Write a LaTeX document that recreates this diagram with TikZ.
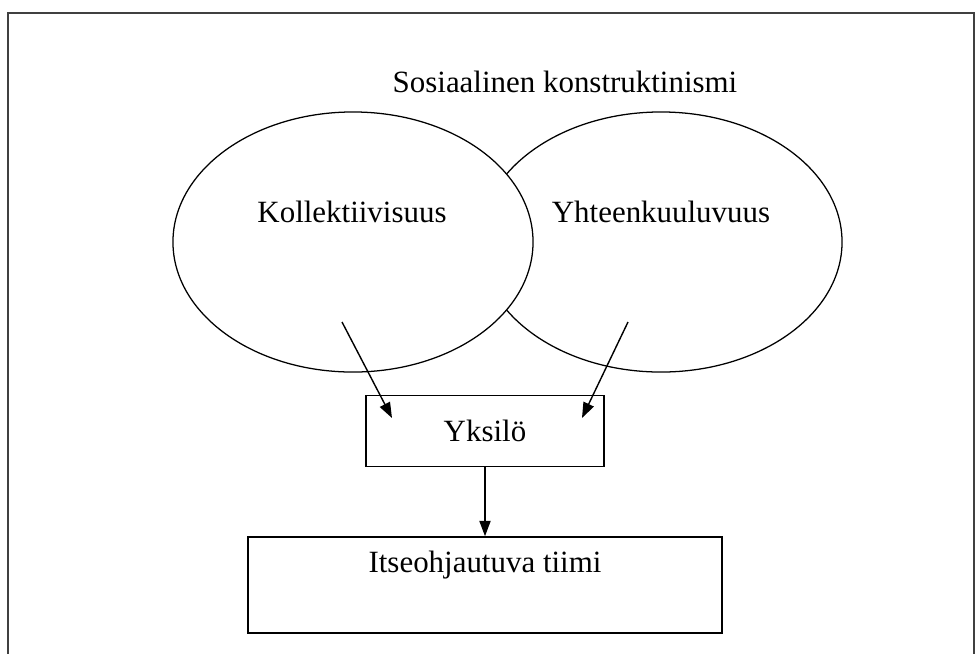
\documentclass[tikz,border=0pt]{standalone}
\usepackage{fontspec}
\setmainfont{Liberation Serif}
\definecolor{FrameGray}{HTML}{404040}
\usepackage{xcolor}
\usepackage{tikz}
\usetikzlibrary{shapes.geometric, arrows.meta, positioning}

\begin{document}
\begin{tikzpicture}[x=0.025cm, y=-0.025cm,
    every node/.style={font=\fontsize{22}{26}\selectfont},
    ringshape/.style={ellipse, draw, line width=0.9pt, minimum width=9cm, minimum height=6.5cm, inner sep=0pt},
    boxshape/.style={rectangle, draw, line width=1.1pt, inner sep=0pt},
    arrowline/.style={-{Triangle[length=11pt,width=8pt]}, line width=1pt}]
      \useasboundingbox (0,0) rectangle (976,653);
      \draw[FrameGray, line width=1.6pt] (8,13) rectangle (974,670);  % page frame
      \node[ringshape, minimum width=9.05cm] (yhteys) at (661,242) {};
      \node[ringshape, fill=white] (kollekt) at (353,242) {};
        \node (otsikko) at (565,82) {Sosiaalinen konstruktinismi};
        \node (kolltext) at (352,212) {Kollektiivisuus};
        \node (yhttext) at (661,212) {Yhteenkuuluvuus};
      \node[boxshape, minimum width=5.95cm, minimum height=1.775cm] (yksilo) at (485,431) {Yksilö};
      \node[boxshape, minimum width=11.85cm, minimum height=2.4cm] (tiimi) at (485,585) {};
        \node (tiimitext) at (485,565) {Itseohjautuva tiimi};
      \coordinate (kollstart) at (342,322);
      \coordinate (kollend) at (392,418);
      \coordinate (yhtstart) at (628,322);
      \coordinate (yhtend) at (582,418);
      \draw[arrowline] (kollstart) -- (kollend);
      \draw[arrowline] (yhtstart) -- (yhtend);
      \draw[arrowline] (yksilo.south) -- (tiimi.north);
\end{tikzpicture}
\end{document}
